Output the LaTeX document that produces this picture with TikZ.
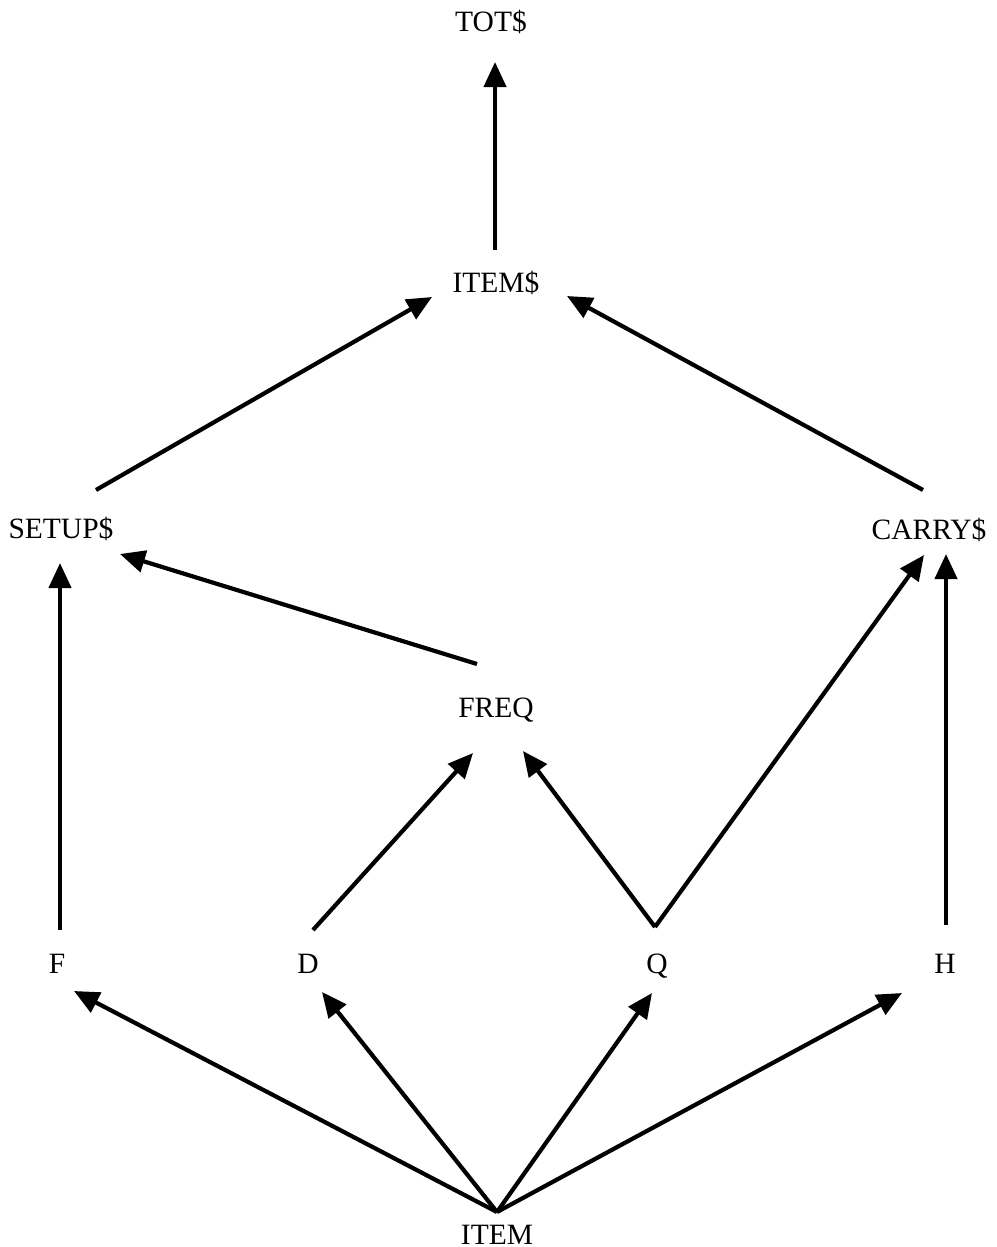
\documentclass[tikz,border=0pt]{standalone}
\usepackage{fontspec}
\setmainfont{Liberation Serif}
\usetikzlibrary{arrows.meta}
\begin{document}
\begin{tikzpicture}[x=1pt,y=-1pt,
  lbl/.style={anchor=base,inner sep=0pt,font=\fontsize{29.5}{34}\selectfont},
  arr/.style={line width=4.2pt,-{Triangle[length=25pt,width=22pt]}}]
\useasboundingbox[fill=white] (0,0) rectangle (996,1247);
% variables, placed by their baselines
\node[lbl] (tot)   at (491,32)   {TOT\$};
\node[lbl] (items) at (496,292)  {ITEM\$};
\node[lbl] (setup) at (61,538)   {SETUP\$};
\node[lbl] (carry) at (929,539)  {CARRY\$};
\node[lbl] (freq)  at (496,717)  {FREQ};
\node[lbl] (f)     at (57,973)   {F};
\node[lbl] (d)     at (308,973)  {D};
\node[lbl] (q)     at (657,973)  {Q};
\node[lbl] (h)     at (945,973)  {H};
\node[lbl] (item)  at (497,1244) {ITEM};
% dependencies
\draw[arr] ([shift={(-1,-42)}]items.base) -- ([shift={(4,30)}]tot.base);
\draw[arr] ([shift={(35,-48)}]setup.base) -- ([shift={(-64,5)}]items.base);
\draw[arr] ([shift={(-6,-49)}]carry.base) -- ([shift={(71,4)}]items.base);
\draw[arr] ([shift={(-19,-53)}]freq.base) -- ([shift={(59,16)}]setup.base);
\draw[arr] ([shift={(3,-43)}]f.base) -- ([shift={(-1,25)}]setup.base);
\draw[arr] ([shift={(5,-43)}]d.base) -- ([shift={(-23,36)}]freq.base);
\draw[arr] ([shift={(-2,-46)}]q.base) -- ([shift={(27,34)}]freq.base);
\draw[arr] ([shift={(-2,-46)}]q.base) -- ([shift={(-5,16)}]carry.base);
\draw[arr] ([shift={(1,-48)}]h.base) -- ([shift={(17,15)}]carry.base);
\draw[arr] ([shift={(0,-32)}]item.base) -- ([shift={(17,18)}]f.base);
\draw[arr] ([shift={(0,-32)}]item.base) -- ([shift={(14,19)}]d.base);
\draw[arr] ([shift={(0,-32)}]item.base) -- ([shift={(-5,20)}]q.base);
\draw[arr] ([shift={(0,-32)}]item.base) -- ([shift={(-43,20)}]h.base);
\end{tikzpicture}
\end{document}
